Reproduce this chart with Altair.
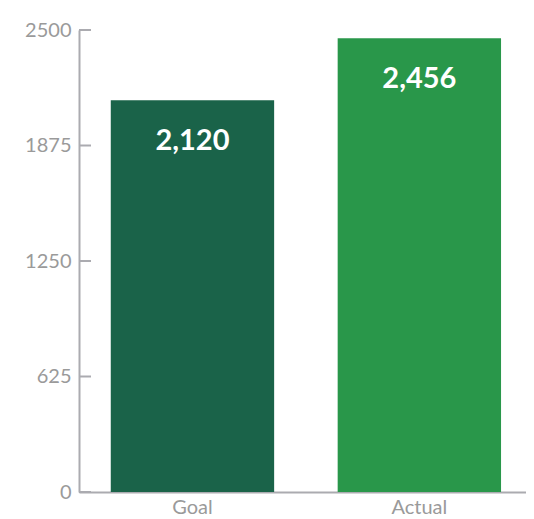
import altair as alt
import pandas as pd

categories = ["Goal", "Actual"]
values = [2120, 2456]
colors = ["#1a6349", "#29974a"]
tick_values = [0, 625, 1250, 1875, 2500]

df = pd.DataFrame({"category": categories, "value": values})
ticks = pd.DataFrame({"tick": tick_values})

AXIS_COLOR = "#ababb0"
LABEL_COLOR = "#9a9a9a"
FONT = "Lato"

x = alt.X(
    "category:N",
    sort=categories,
    scale=alt.Scale(paddingInner=0.28, paddingOuter=0.125, align=0.56),
    axis=alt.Axis(
        title=None, labelAngle=0, ticks=False, domainColor=AXIS_COLOR,
        domainWidth=2, labelColor=LABEL_COLOR, labelFontSize=20,
        labelFont=FONT, labelPadding=5,
    ),
)
y = alt.Y(
    "value:Q",
    scale=alt.Scale(domain=[0, 2500], nice=False),
    axis=alt.Axis(
        title=None, values=tick_values, grid=False, ticks=False,
        domainColor=AXIS_COLOR, domainWidth=2, labelColor=LABEL_COLOR,
        labelFontSize=20, labelFont=FONT, labelPadding=8, format="d",
    ),
)

bars = alt.Chart(df).mark_bar().encode(
    x=x,
    y=y,
    color=alt.Color("category:N", scale=alt.Scale(domain=categories, range=colors), legend=None),
)

text = alt.Chart(df).mark_text(
    color="white", fontSize=29, fontWeight="bold", font=FONT, baseline="middle", dy=41
).encode(
    x=alt.X("category:N", sort=categories),
    y=alt.Y("value:Q"),
    text=alt.Text("value:Q", format=","),
)

tick_rules = alt.Chart(ticks).mark_rule(color=AXIS_COLOR, strokeWidth=2).encode(
    y=alt.Y("tick:Q"),
    x=alt.value(0),
    x2=alt.value(12),
)

chart = (
    alt.layer(bars, text, tick_rules)
    .properties(
        width=447,
        height=462,
        autosize="none",
        padding={"left": 71, "top": 22, "right": 0, "bottom": 27},
    )
    .configure_view(stroke=None)
)

chart.save("out.html", embed_options={"renderer": "svg", "actions": False})
